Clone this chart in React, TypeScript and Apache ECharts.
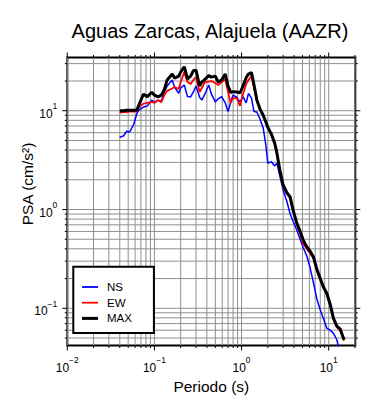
import React, { useEffect, useRef } from 'react';
import * as echarts from 'echarts';

const titleText = 'Aguas Zarcas, Alajuela (AAZR)';
const xTitle = 'Periodo (s)';
const yTitle = 'PSA (cm/s²)';

const periods = [
  0.04, 0.044, 0.048, 0.052, 0.058, 0.063, 0.067, 0.075, 0.083, 0.093,
  0.1, 0.11, 0.12, 0.13, 0.14, 0.16, 0.17, 0.19, 0.2, 0.22,
  0.24, 0.26, 0.28, 0.3, 0.33, 0.35, 0.38, 0.42, 0.45, 0.5,
  0.54, 0.59, 0.65, 0.7, 0.75, 0.8, 0.88, 0.96, 1.04, 1.13,
  1.2, 1.3, 1.39, 1.5, 1.63, 1.77, 1.9, 2.0, 2.2, 2.4,
  2.55, 2.75, 3.0, 3.3, 3.6, 3.9, 4.3, 4.7, 5.1, 5.6,
  6.1, 6.7, 7.3, 8.0, 8.7, 9.5, 10.4, 11.3, 12.4, 13.5, 15.0,
];

const ns = [
  5.4, 5.55, 6.2, 6.1, 7.3, 9.5, 10.2, 10.9, 11.2, 12.8,
  12.2, 12.8, 12.5, 15.6, 17.8, 20.5, 17.4, 15.0, 17.0, 18.2,
  13.9, 13.8, 15.5, 17.8, 13.7, 12.8, 14.8, 18.2, 14.8, 12.3,
  13.2, 13.9, 12.0, 9.8, 12.2, 14.4, 13.7, 12.3, 13.9, 12.0,
  15.0, 13.4, 9.8, 9.7, 8.2, 6.7, 4.5, 2.94, 3.05, 2.76,
  2.95, 2.18, 1.58, 1.22, 0.91, 0.76, 0.62, 0.5, 0.41, 0.34,
  0.26, 0.18, 0.125, 0.096, 0.079, 0.063, 0.06, 0.056, 0.048, 0.035, null,
];

const ew = [
  9.6, 9.7, 9.7, 9.8, 9.8, 9.9, 10.9, 11.8, 12.0, 12.3,
  12.0, 12.8, 12.2, 14.4, 15.9, 16.8, 17.4, 16.6, 19.5, 24.6,
  19.5, 18.6, 20.5, 21.9, 15.5, 17.0, 19.5, 19.7, 20.0, 19.1,
  18.2, 19.5, 20.8, 15.5, 12.0, 13.4, 13.4, 11.2, 14.8, 18.6,
  20.5, 22.4, 17.0, 12.6, 10.2, 8.9, 7.6, 6.7, 5.7, 4.6,
  3.6, 2.45, 1.72, 1.45, 1.3, 0.96, 0.71, 0.57, 0.45, 0.4,
  0.36, 0.32, 0.24, 0.195, 0.16, 0.138, 0.107, 0.078, 0.064, 0.06, 0.047,
];

const maxv = [
  10.0, 10.0, 10.1, 10.1, 10.1, 10.2, 11.7, 14.7, 13.9, 15.4,
  14.4, 13.8, 14.4, 16.4, 20.5, 23.5, 21.4, 22.4, 24.6, 27.9,
  21.0, 22.4, 25.4, 25.8, 17.8, 19.5, 20.8, 22.7, 21.9, 22.4,
  19.5, 20.5, 23.5, 17.8, 15.3, 15.6, 15.5, 15.2, 17.8, 21.7,
  23.5, 24.3, 18.2, 12.8, 10.4, 9.0, 7.7, 6.8, 5.8, 4.7,
  3.7, 2.51, 1.77, 1.49, 1.35, 0.99, 0.73, 0.6, 0.49, 0.42,
  0.38, 0.33, 0.25, 0.2, 0.164, 0.142, 0.11, 0.08, 0.066, 0.062, 0.048,
];

const xMajorTicks = [0.01, 0.1, 1, 10];
const xMinorTicks = [
  0.02, 0.03, 0.04, 0.05, 0.06, 0.07, 0.08, 0.09,
  0.2, 0.3, 0.4, 0.5, 0.6, 0.7, 0.8, 0.9,
  2, 3, 4, 5, 6, 7, 8, 9, 20,
];
const yMajorTicks = [0.1, 1, 10];
const yMinorTicks = [
  0.05, 0.06, 0.07, 0.08, 0.09,
  0.2, 0.3, 0.4, 0.5, 0.6, 0.7, 0.8, 0.9,
  2, 3, 4, 5, 6, 7, 8, 9, 20, 30,
];

const X_MIN = 0.01;
const X_MAX = 20.2;
const Y_MIN = 0.042;
const Y_MAX = 34.6;

const FONT = 'Liberation Sans';
const GRID_COLOR = '#8f8f8f';

function powLabel(v: number) {
  const l = Math.log10(v);
  const r = Math.round(l);
  if (Math.abs(l - r) > 1e-6) return '';
  const e = r < 0 ? '\u2212' + -r : String(r);
  return '{b|10}{s|' + e + '}';
}

const richLabel = {
  b: { fontSize: 12, fontFamily: FONT, color: '#000', verticalAlign: 'bottom', lineHeight: 18 },
  s: { fontSize: 8.5, fontFamily: FONT, color: '#000', verticalAlign: 'top', lineHeight: 18 },
};

const thinIcon = 'path://M0 0H16V1.8H0Z';
const thickIcon = 'path://M0 0H16V3H0Z';

export default function App() {
  const ref = useRef<HTMLDivElement>(null);
  useEffect(() => {
    if (!ref.current) return;
    const chart = echarts.init(ref.current, undefined, { renderer: 'svg' });

    const xGridData = [
      ...xMajorTicks.map((v) => [v, 1, 1]),
      ...xMinorTicks.map((v) => [v, 1, 0]),
    ];
    const yGridData = [
      ...yMajorTicks.map((v) => [1, v, 1]),
      ...yMinorTicks.map((v) => [1, v, 0]),
    ];

    const option: any = {
      animation: false,
      title: {
        text: titleText,
        left: 205,
        textAlign: 'center',
        top: 16,
        textStyle: { fontSize: 20, fontWeight: 'normal', color: '#000', fontFamily: FONT },
      },
      grid: {
        left: 67.3,
        top: 57.5,
        width: 288,
        height: 288,
        show: true,
        borderColor: '#000',
        borderWidth: 2,
        backgroundColor: 'transparent',
      },
      legend: {
        data: [
          { name: 'NS', icon: thinIcon },
          { name: 'EW', icon: thinIcon },
          { name: 'MAX', icon: thickIcon },
        ],
        orient: 'vertical',
        left: 73.3,
        top: 266.7,
        itemWidth: 16,
        itemHeight: 14,
        itemGap: 3.7,
        symbolKeepAspect: true,
        padding: [14.3, 22, 8.7, 8.7],
        backgroundColor: '#fff',
        borderColor: '#000',
        borderWidth: 2,
        borderRadius: 0,
        textStyle: { fontSize: 11.5, fontFamily: FONT, color: '#000', padding: [0, 0, 0, 4] },
      },
      xAxis: {
        type: 'log',
        logBase: 10,
        min: X_MIN,
        max: X_MAX,
        name: xTitle,
        nameLocation: 'middle',
        nameGap: 28,
        nameTextStyle: { fontSize: 15.5, fontFamily: FONT, color: '#000' },
        axisLine: { show: false },
        axisTick: { show: false },
        splitLine: { show: false },
        axisLabel: {
          margin: 10,
          formatter: powLabel,
          rich: richLabel,
          showMinLabel: true,
          showMaxLabel: true,
        },
      },
      yAxis: {
        type: 'log',
        logBase: 10,
        min: Y_MIN,
        max: Y_MAX,
        axisLine: { show: false },
        axisTick: { show: false },
        splitLine: { show: false },
        axisLabel: {
          margin: 10,
          formatter: powLabel,
          rich: richLabel,
          showMinLabel: true,
          showMaxLabel: true,
        },
      },
      graphic: [
        {
          type: 'text',
          x: 27,
          y: 184,
          rotation: Math.PI / 2,
          style: {
            text: yTitle,
            fontSize: 15.5,
            fontFamily: FONT,
            fill: '#000',
            textAlign: 'center',
            textVerticalAlign: 'middle',
          },
        },
      ],
      series: [
        {
          type: 'custom',
          name: 'xgrid',
          z: 1,
          silent: true,
          data: xGridData,
          encode: { x: 0, y: 1 },
          renderItem: (params: any, api: any) => {
            const cs = params.coordSys;
            const px = api.coord([api.value(0), 1])[0];
            const len = api.value(2) === 1 ? 5 : 2.5;
            const b = cs.y + cs.height;
            return {
              type: 'group',
              children: [
                { type: 'line', shape: { x1: px, y1: cs.y, x2: px, y2: b }, style: { stroke: GRID_COLOR, lineWidth: 1 } },
                { type: 'line', shape: { x1: px, y1: b, x2: px, y2: b + len }, style: { stroke: '#000', lineWidth: 1 } },
                { type: 'line', shape: { x1: px, y1: cs.y, x2: px, y2: cs.y - len }, style: { stroke: '#000', lineWidth: 1 } },
              ],
            };
          },
        },
        {
          type: 'custom',
          name: 'ygrid',
          z: 1,
          silent: true,
          data: yGridData,
          encode: { x: 0, y: 1 },
          renderItem: (params: any, api: any) => {
            const cs = params.coordSys;
            const py = api.coord([1, api.value(1)])[1];
            const len = api.value(2) === 1 ? 5 : 2.5;
            const r = cs.x + cs.width;
            return {
              type: 'group',
              children: [
                { type: 'line', shape: { x1: cs.x, y1: py, x2: r, y2: py }, style: { stroke: GRID_COLOR, lineWidth: 1 } },
                { type: 'line', shape: { x1: cs.x, y1: py, x2: cs.x - len, y2: py }, style: { stroke: '#000', lineWidth: 1 } },
                { type: 'line', shape: { x1: r, y1: py, x2: r + len, y2: py }, style: { stroke: '#000', lineWidth: 1 } },
              ],
            };
          },
        },
        {
          type: 'line',
          name: 'NS',
          z: 3,
          symbol: 'none',
          color: '#0000ff',
          lineStyle: { color: '#0000ff', width: 1.5 },
          data: periods.map((p, i) => [p, ns[i]]),
        },
        {
          type: 'line',
          name: 'EW',
          z: 4,
          symbol: 'none',
          color: '#ff0000',
          lineStyle: { color: '#ff0000', width: 1.8 },
          data: periods.map((p, i) => [p, ew[i]]),
        },
        {
          type: 'line',
          name: 'MAX',
          z: 5,
          symbol: 'none',
          color: '#000',
          lineStyle: { color: '#000', width: 3 },
          data: periods.map((p, i) => [p, maxv[i]]),
        },
      ],
    };
    chart.setOption(option);
    return () => chart.dispose();
  }, []);

  return <div ref={ref} style={{ width: 390, height: 400, position: 'absolute', left: 0, top: 0 }} />;
}
